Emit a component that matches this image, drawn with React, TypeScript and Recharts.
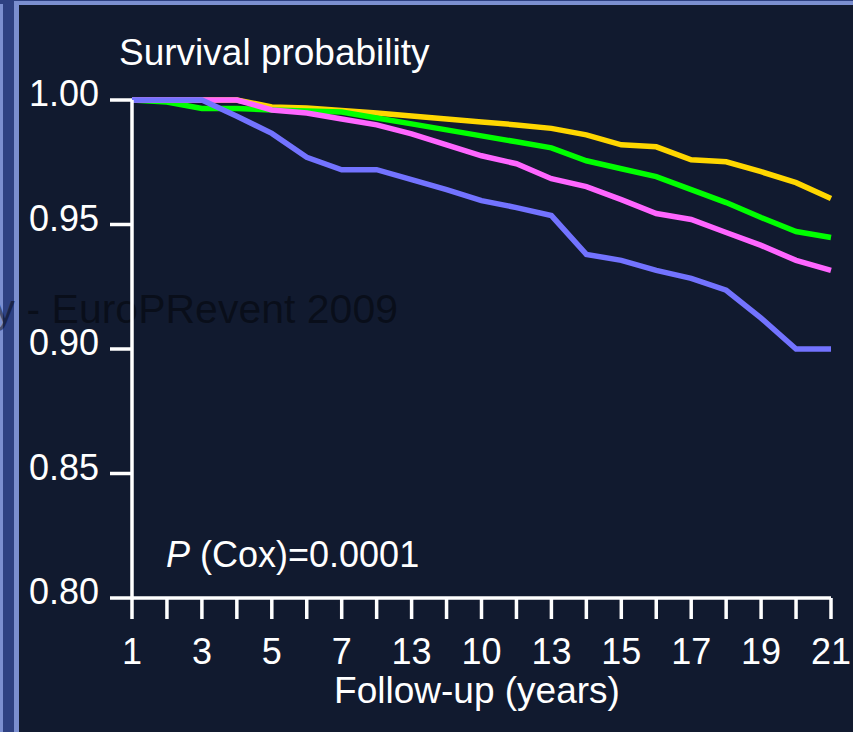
import { LineChart, Line, XAxis, YAxis } from "recharts";

// follow-up year of each point
const years = [1, 2, 3, 4, 5, 6, 7, 8, 9, 10, 11, 12, 13, 14, 15, 16, 17, 18, 19, 20, 21];

// printed under the ticks (blank = tick without a label)
const xTickLabels = ["1", "", "3", "", "5", "", "7", "", "13", "", "10", "", "13", "", "15", "", "17", "", "19", "", "21"];

const yTicks = [0.8, 0.85, 0.9, 0.95, 1.0];

const goldSurvival = [
  1.0, 1.0, 1.0, 1.0, 0.9972, 0.9968, 0.9958, 0.9948, 0.9936, 0.9924, 0.9912,
  0.99, 0.9886, 0.986, 0.982, 0.9812, 0.976, 0.9752, 0.9712, 0.9668, 0.9604,
];
const greenSurvival = [
  1.0, 0.9992, 0.9966, 0.9966, 0.996, 0.9956, 0.9952, 0.9928, 0.9904, 0.988, 0.9856,
  0.9832, 0.9808, 0.9756, 0.9724, 0.9692, 0.964, 0.9588, 0.9528, 0.9472, 0.9448,
];
const pinkSurvival = [
  1.0, 1.0, 1.0, 1.0, 0.996, 0.9948, 0.9924, 0.99, 0.9864, 0.982, 0.9776,
  0.9744, 0.9684, 0.9652, 0.96, 0.9544, 0.952, 0.9468, 0.9416, 0.9356, 0.9316,
];
const blueSurvival = [
  1.0, 1.0, 1.0, 0.9935, 0.9866, 0.977, 0.972, 0.972, 0.968, 0.964, 0.9596,
  0.9568, 0.9536, 0.938, 0.9356, 0.9316, 0.9284, 0.9236, 0.9124, 0.9, 0.9,
];

const data = years.map((year, i) => ({
  year,
  gold: goldSurvival[i],
  green: greenSurvival[i],
  pink: pinkSurvival[i],
  blue: blueSurvival[i],
}));

const FONT = '"Liberation Sans", Arial, sans-serif';
const NAVY = "#111a2f";
const FRAME_DARK = "#2e4182";
const FRAME_LIGHT = "#7b8fd0";

function YTick(props: any) {
  const { x, y, payload } = props;
  return (
    <text x={x} y={y + 6} textAnchor="end" fill="#fff" fontSize={36} fontFamily={FONT}>
      {Number(payload.value).toFixed(2)}
    </text>
  );
}

function XTick(props: any) {
  const { x, y, payload } = props;
  const label = xTickLabels[years.indexOf(payload.value)];
  if (!label) return <g />;
  return (
    <text x={x} y={y + 45} textAnchor="middle" fill="#fff" fontSize={36} fontFamily={FONT}>
      {label}
    </text>
  );
}

export default function App() {
  return (
    <div
      style={{
        position: "absolute",
        left: 0,
        top: 0,
        width: 853,
        height: 732,
        background: NAVY,
        overflow: "hidden",
      }}
    >
      {/* frame, watermark and captions behind the plot */}
      <svg width={853} height={732} style={{ position: "absolute", left: 0, top: 0 }}>
        <rect x={0} y={0} width={19} height={732} fill={FRAME_DARK} />
        <rect x={0} y={0} width={853} height={1} fill={FRAME_DARK} />
        <rect x={0} y={4} width={3} height={728} fill={FRAME_LIGHT} />
        <rect x={14} y={1} width={5} height={731} fill={FRAME_LIGHT} />
        <rect x={14} y={1} width={839} height={4} fill={FRAME_LIGHT} />
        <text
          x={398}
          y={323}
          textAnchor="end"
          fontSize={41}
          fontFamily={FONT}
          fill="#000"
          fillOpacity={0.45}
        >
          y - EuroPRevent 2009
        </text>
        <text x={119} y={65} fill="#fff" fontSize={37} fontFamily={FONT}>
          Survival probability
        </text>
        <text x={477} y={703} textAnchor="middle" fill="#fff" fontSize={37} fontFamily={FONT}>
          Follow-up (years)
        </text>
        <text x={166} y={567} fill="#fff" fontSize={36} fontFamily={FONT}>
          <tspan fontStyle="italic">P</tspan> (Cox)=0.0001
        </text>
      </svg>

      <div style={{ position: "absolute", left: 0, top: 0 }}>
        <LineChart
          width={853}
          height={732}
          data={data}
          margin={{ top: 100, right: 22, bottom: 104, left: 72 }}
        >
          <XAxis
            dataKey="year"
            type="number"
            domain={[1, 21]}
            ticks={years}
            interval={0}
            height={30}
            axisLine={{ stroke: "#fff", strokeWidth: 3.5 }}
            tickLine={{ stroke: "#fff", strokeWidth: 3.5 }}
            tickSize={21}
            tickMargin={0}
            tick={<XTick />}
          />
          <YAxis
            type="number"
            domain={[0.8, 1.0]}
            ticks={yTicks}
            interval={0}
            width={60}
            axisLine={{ stroke: "#fff", strokeWidth: 3.5 }}
            tickLine={{ stroke: "#fff", strokeWidth: 3.5 }}
            tickSize={22}
            tickMargin={11}
            tick={<YTick />}
          />
          <Line type="linear" dataKey="gold" stroke="#ffd700" strokeWidth={5.5} dot={false} isAnimationActive={false} />
          <Line type="linear" dataKey="green" stroke="#00ff00" strokeWidth={5.5} dot={false} isAnimationActive={false} />
          <Line type="linear" dataKey="pink" stroke="#ff66ff" strokeWidth={5.5} dot={false} isAnimationActive={false} />
          <Line type="linear" dataKey="blue" stroke="#7373ff" strokeWidth={5.5} dot={false} isAnimationActive={false} />
        </LineChart>
      </div>
    </div>
  );
}
